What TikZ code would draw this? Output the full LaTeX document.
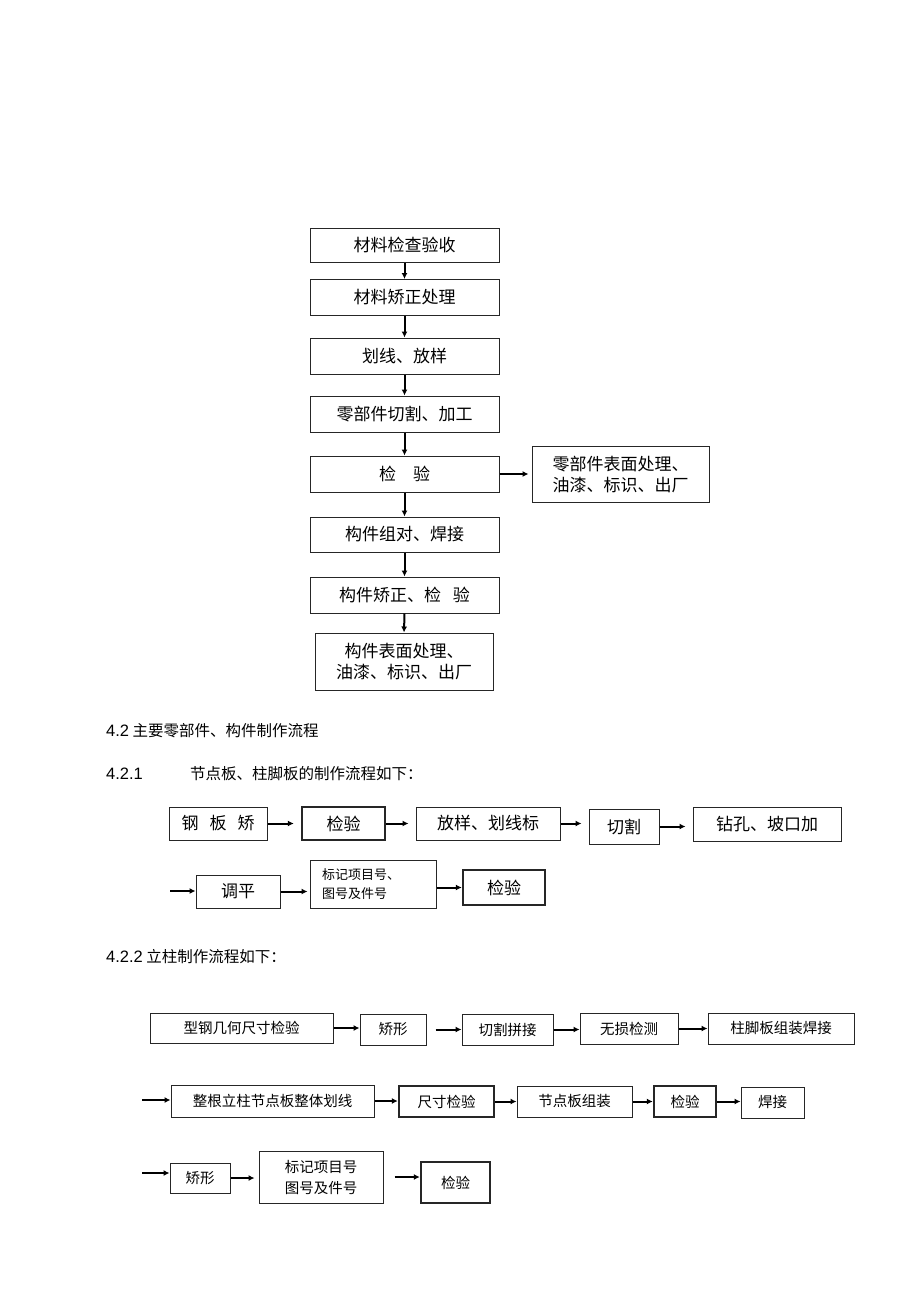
\documentclass[tikz,border=0pt]{standalone}
\usepackage{fontspec}
\setmainfont{Noto Sans CJK SC}
\newfontfamily\latin{Liberation Sans}
\usetikzlibrary{arrows.meta}

\begin{document}
\begin{tikzpicture}[x=1pt,y=-1pt,
		box/.style={draw=black!85, line width=1pt, inner sep=0pt, align=center},
		thickbox/.style={box, line width=2.4pt},
		arr/.style={-{Latex[length=6pt,width=6pt]}, line width=2pt},
		big/.style={font=\fontsize{17}{21}\selectfont},
		mid/.style={font=\fontsize{14.5}{21}\selectfont},
		sml/.style={font=\fontsize{13}{19}\selectfont},
		head/.style={anchor=west, inner sep=0pt, font=\fontsize{15.5}{18}\selectfont}]
		\useasboundingbox (0,0) rectangle (920,1303);

		% main flow
		\node[box, big, minimum width=189, minimum height=34] (m1) at (404.5,245) {材料检查验收};
		\node[box, big, minimum width=189, minimum height=36] (m2) at (404.5,297.5) {材料矫正处理};
		\node[box, big, minimum width=189, minimum height=36] (m3) at (404.5,356) {划线、放样};
		\node[box, big, minimum width=189, minimum height=36] (m4) at (404.5,414) {零部件切割、加工};
		\node[box, big, minimum width=189, minimum height=36] (m5) at (404.5,474) {检\quad 验};
		\node[box, big, minimum width=177, minimum height=56] (side) at (620.5,474) {零部件表面处理、\\油漆、标识、出厂};
		\node[box, big, minimum width=189, minimum height=35] (m6) at (404.5,534.5) {构件组对、焊接};
		\node[box, big, minimum width=189, minimum height=36] (m7) at (404.5,595) {构件矫正、检\hspace{12pt}验};
		\node[box, big, minimum width=178, minimum height=57] (m8) at (404,661.5) {构件表面处理、\\油漆、标识、出厂};
		\draw[arr] (m1) -- (m2);
		\draw[arr] (m2) -- (m3);
		\draw[arr] (m3) -- (m4);
		\draw[arr] (m4) -- (m5);
		\draw[arr] (m5) -- (m6);
		\draw[arr] (m6) -- (m7);
		\draw[arr] (m7.south) -- (m8.north);
		\draw[arr, shorten >=3pt] (m5) -- (side);

		\node[head] (h1) at (106,731) {{\latin\fontsize{16.5}{18}\selectfont 4.2} 主要零部件、构件制作流程};
		\node[head] (h2) at (106,774) {\latin\fontsize{16.5}{18}\selectfont 4.2.1};
		\node[head] (h2t) at (190,774) {节点板、柱脚板的制作流程如下：};

		% 4.2.1
		\node[box, big, minimum width=98, minimum height=33] (a1) at (218,823.5) {钢\hspace{11pt}板\hspace{11pt}矫};
		\node[thickbox, big, minimum width=83, minimum height=33] (a2) at (343.5,823.5) {检验};
		\node[box, big, minimum width=144, minimum height=33] (a3) at (488,823.5) {放样、划线标};
		\node[box, big, minimum width=70, minimum height=35] (a4) at (624,826.5) {切割};
		\node[box, big, minimum width=148, minimum height=34] (a5) at (767,824) {钻孔、坡口加};
		\draw[arr, shorten >=7pt] (a1.east) -- (a1.east -| a2.west);
		\draw[arr, shorten >=7pt] (a2.east) -- (a2.east -| a3.west);
		\draw[arr, shorten >=7pt] (a3.east) -- (a3.east -| a4.west);
		\draw[arr, shorten >=7pt] (a4.east) -- (a4.east -| a5.west);

		\coordinate (p1) at (170,891);
		\node[box, big, minimum width=84, minimum height=33] (b1) at (238,891.5) {调平};
		\node[box, sml, minimum width=126, minimum height=48, text width=102, align=left] (b2) at (373,884) {标记项目号、\\图号及件号};
		\node[thickbox, big, minimum width=82, minimum height=35] (b3) at (504,887.5) {检验};
		\draw[arr] (p1) -- (p1 -| b1.west);
		\draw[arr, shorten >=2pt] (b1.east) -- (b1.east -| b2.west);
		\draw[arr] (b2.east |- b3.west) -- (b3.west);

		\node[head] (h3) at (106,957) {{\latin\fontsize{16.5}{18}\selectfont 4.2.2} 立柱制作流程如下：};

		% 4.2.2
		\node[box, mid, minimum width=183, minimum height=30] (c1) at (241.5,1028) {型钢几何尺寸检验};
		\node[box, mid, minimum width=66, minimum height=31] (c2) at (393,1029.5) {矫形};
		\node[box, mid, minimum width=91, minimum height=31] (c3) at (507.5,1029.5) {切割拼接};
		\node[box, mid, minimum width=98, minimum height=31] (c4) at (629,1028.5) {无损检测};
		\node[box, mid, minimum width=146, minimum height=31] (c5) at (781,1028.5) {柱脚板组装焊接};
		\draw[arr] (c1.east) -- (c1.east -| c2.west);
		\draw[arr, shorten <=9pt] (c2.east) -- (c2.east -| c3.west);
		\draw[arr] (c3.east) -- (c3.east -| c4.west);
		\draw[arr] (c4.east) -- (c4.east -| c5.west);

		\coordinate (p2) at (142,1100);
		\node[box, mid, minimum width=203, minimum height=32] (d1) at (272.5,1101) {整根立柱节点板整体划线};
		\node[thickbox, mid, minimum width=95, minimum height=31] (d2) at (446.5,1101.5) {尺寸检验};
		\node[box, mid, minimum width=115, minimum height=31] (d3) at (574.5,1101.5) {节点板组装};
		\node[thickbox, mid, minimum width=62, minimum height=31] (d4) at (685,1101.5) {检验};
		\node[box, mid, minimum width=63, minimum height=31] (d5) at (772.5,1102.5) {焊接};
		\draw[arr] (p2) -- (p2 -| d1.west);
		\draw[arr] (d1.east) -- (d1.east -| d2.west);
		\draw[arr] (d2.east) -- (d2.east -| d3.west);
		\draw[arr] (d3.east) -- (d3.east -| d4.west);
		\draw[arr] (d4.east) -- (d4.east -| d5.west);

		\coordinate (p3) at (142,1173);
		\node[box, mid, minimum width=60, minimum height=30] (e1) at (200,1178) {矫形};
		\node[box, mid, minimum width=124, minimum height=52] (e2) at (321,1177) {标记项目号\\图号及件号};
		\node[thickbox, mid, minimum width=69, minimum height=41] (e3) at (455.5,1182.5) {检验};
		\draw[arr] (p3) -- (p3 -| e1.west);
		\draw[arr, shorten >=4pt] (e1.east) -- (e1.east -| e2.west);
		\draw[arr, shorten <=11pt] (e2.east) -- (e2.east -| e3.west);
	\end{tikzpicture}
\end{document}
